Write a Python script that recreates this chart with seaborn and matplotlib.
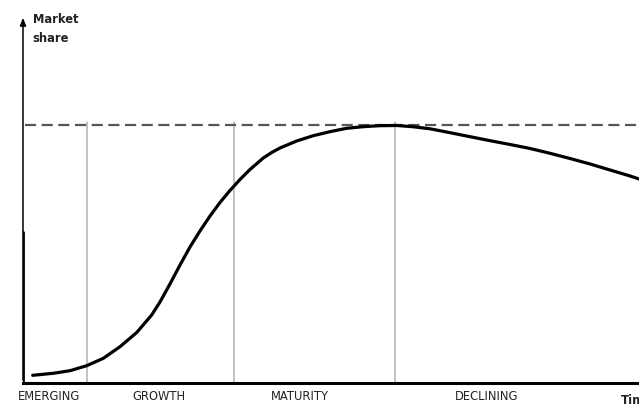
import numpy as np
import pandas as pd
import seaborn as sns
import matplotlib
matplotlib.use("Agg")
import matplotlib.pyplot as plt

# product life cycle curve (time 0-100, share peak = 100)
time = [1.57, 4.92, 7.63, 10.34, 13.04, 15.75, 18.46, 20.89, 22.24, 23.86,
        25.49, 27.11, 28.73, 30.36, 31.98, 33.60, 35.23, 36.85, 39.01, 40.37,
        41.72, 44.43, 47.13, 49.84, 52.55, 55.24, 57.95, 60.67, 63.36, 66.07,
        69.32, 72.56, 75.81, 79.06, 82.31, 85.55, 88.80, 92.05, 95.29, 98.54,
        100.0]
share = [2.99, 3.77, 4.78, 6.72, 9.59, 14.10, 19.61, 26.41, 31.46, 38.45,
         45.83, 52.82, 59.03, 64.85, 70.10, 74.76, 79.03, 82.91, 87.38, 89.51,
         91.26, 93.98, 96.04, 97.59, 98.91, 99.53, 99.92, 100.0, 99.50, 98.72,
         97.20, 95.65, 94.10, 92.62, 91.07, 89.20, 87.18, 85.05, 82.72, 80.39,
         79.22]

peak = 100.0
phase_bounds = [10.39, 34.25, 60.46]
phase_names = ["EMERGING", "GROWTH", "MATURITY", "DECLINING"]
phase_label_x = [4.3, 22.1, 44.9, 75.2]

df = pd.DataFrame({"time": time, "share": share})

sns.set_style("white")
plt.rcParams['font.family'] = ['DejaVu Sans']

fig = plt.figure(figsize=(6.39, 4.05), dpi=100)
ax = fig.add_axes([23 / 639, 22 / 405, 616 / 639, 368 / 405])
ax.set_xlim(0, 100)
ax.set_ylim(0, 142.9)

# saturation level
ax.axhline(peak, color="#555555", lw=1.6, ls=(0, (5, 2.5)), xmin=0.003)

# phase separators
for b in phase_bounds:
    ax.plot([b, b], [0, peak + 1.5], color="#b0b0b0", lw=1.1, zorder=1)

sns.lineplot(data=df, x="time", y="share", color="black", lw=2.3,
             ax=ax, zorder=3)
for l in ax.get_lines()[-1:]:
    l.set_solid_joinstyle("round")
    l.set_solid_capstyle("round")

# axes
for s in ["top", "right", "left"]:
    ax.spines[s].set_visible(False)
ax.spines["bottom"].set_linewidth(2.2)
ax.spines["bottom"].set_color("black")
ax.annotate("", xy=(0, 142.9), xytext=(0, 0), xycoords="data",
            arrowprops=dict(arrowstyle="-|>,head_width=0.18,head_length=0.45",
                            lw=1.1, color="black"),
            annotation_clip=False)
ax.axvline(0, ymin=0, ymax=0.41, color="black", lw=2.0)

ax.set_xticks([])
ax.set_yticks([])
ax.set_xlabel("")
ax.set_ylabel("")

for name, x in zip(phase_names, phase_label_x):
    ax.text(x, -5.4, name, ha="center", va="center", fontsize=8.3,
            color="#222222", clip_on=False)

# the reference cuts this label at the right edge
ax.text(97.0, -6.8, "Time", ha="left", va="center", fontsize=8.5,
        fontweight="bold", color="#222222", clip_on=False)
ax.text(1.6, 143.8, "Market\nshare", ha="left", va="top", fontsize=8.3,
        fontweight="bold", color="#222222", linespacing=1.6, clip_on=False)

fig.savefig("out.png", dpi=100)
